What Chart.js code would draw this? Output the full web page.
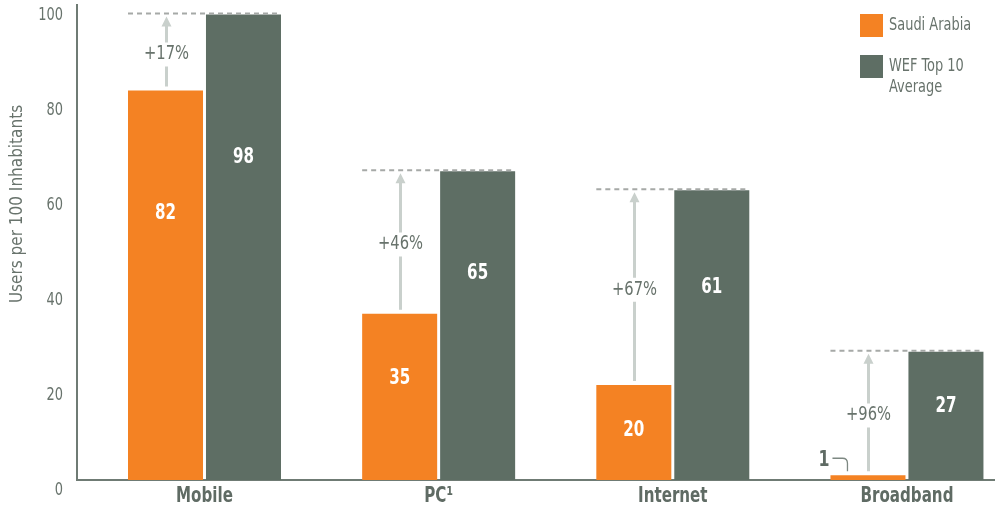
<!DOCTYPE html>
<html>
<head>
<meta charset="utf-8">
<script src="https://cdn.jsdelivr.net/npm/chart.js@4/dist/chart.umd.min.js"></script>
<style>
  html, body { margin: 0; padding: 0; background: #ffffff; overflow: hidden; }
  canvas { display: block; }
</style>
</head>
<body>
<canvas id="chart" width="995" height="511"></canvas>
<script>
// ICT penetration: Saudi Arabia vs. WEF Top 10 average
const categories = ['Mobile', 'PC¹', 'Internet', 'Broadband'];
const saudiArabia = [82, 35, 20, 1];
const wefTop10 = [98, 65, 61, 27];
const gapLabels = ['+17%', '+46%', '+67%', '+96%'];
const seriesNames = ['Saudi Arabia', 'WEF Top 10\nAverage'];
const yTicks = [0, 20, 40, 60, 80, 100];
const yTitle = 'Users per 100 Inhabitants';

const FONT = '"DejaVu Sans Condensed", "DejaVu Sans", sans-serif';
const ORANGE = '#f48223';
const GREEN = '#5e6e64';
const TEXT = '#68736c';
const LABEL = '#5f6b64';
const AXIS = '#6f7b74';
const ARROW = '#c9d0cc';
const DASH = '#a6a9a7';

const toPoints = values => values.map((v, i) => ({ x: i, y: v }));

// condensed text helper (horizontal squeeze gives the narrow typeface look)
function drawText(ctx, str, x, y, o) {
  ctx.save();
  ctx.font = `${o.bold ? 'bold ' : ''}${o.size}px ${FONT}`;
  ctx.fillStyle = o.color;
  ctx.textAlign = o.align || 'center';
  ctx.textBaseline = o.baseline || 'middle';
  ctx.translate(x, y);
  if (o.rotate) ctx.rotate(o.rotate);
  ctx.scale(o.sx || 1, 1);
  ctx.fillText(str, 0, 0);
  ctx.restore();
}

const annotate = {
  id: 'annotate',
  afterDatasetsDraw(chart) {
    const ctx = chart.ctx;
    const yScale = chart.scales.y;
    const sa = chart.getDatasetMeta(0).data;
    const wef = chart.getDatasetMeta(1).data;
    ctx.save();
    categories.forEach((cat, i) => {
      const o = sa[i], g = wef[i];
      const oLeft = o.x - o.width / 2;
      const gRight = g.x + g.width / 2;

      // dashed line at the benchmark level
      ctx.setLineDash([5, 4]);
      ctx.strokeStyle = DASH;
      ctx.lineWidth = 2;
      ctx.beginPath();
      ctx.moveTo(oLeft, g.y - 1);
      ctx.lineTo(gRight, g.y - 1);
      ctx.stroke();
      ctx.setLineDash([]);

      // gap arrow with its label
      const ax = Math.round(o.x) + 0.5;
      const tip = g.y + 2;
      const bottom = o.y - 4;
      const mid = (o.y + g.y) / 2 + 2;
      ctx.strokeStyle = ARROW;
      ctx.lineWidth = 3;
      ctx.beginPath();
      ctx.moveTo(ax, bottom);
      ctx.lineTo(ax, mid + 12);
      ctx.moveTo(ax, mid - 12);
      ctx.lineTo(ax, tip + 8);
      ctx.stroke();
      ctx.fillStyle = ARROW;
      ctx.beginPath();
      ctx.moveTo(ax, tip);
      ctx.lineTo(ax - 5, tip + 10);
      ctx.lineTo(ax + 5, tip + 10);
      ctx.closePath();
      ctx.fill();

      drawText(ctx, gapLabels[i], ax, mid, { size: 19, color: TEXT, sx: 0.86 });

      // value labels
      [[o, saudiArabia[i]], [g, wefTop10[i]]].forEach(([bar, v]) => {
        const h = bar.base - bar.y;
        if (h > 30) {
          drawText(ctx, String(v), bar.x, yScale.getPixelForValue(v * 0.736 - 3.9) + 2,
            { size: 21, bold: true, color: '#ffffff', sx: 0.8 });
        } else {
          const left = bar.x - bar.width / 2;
          drawText(ctx, String(v), left - 1, bar.y - 9,
            { size: 22, bold: true, color: LABEL, align: 'right', baseline: 'alphabetic', sx: 0.8 });
          ctx.strokeStyle = '#7d8882';
          ctx.lineWidth = 1.3;
          ctx.beginPath();
          ctx.moveTo(left + 2, bar.y - 17);
          ctx.lineTo(left + 12, bar.y - 17);
          ctx.quadraticCurveTo(left + 17, bar.y - 17, left + 17, bar.y - 12);
          ctx.lineTo(left + 17, bar.y - 4);
          ctx.stroke();
        }
      });
    });
    ctx.restore();
  },
  afterDraw(chart) {
    const ctx = chart.ctx;
    const xs = chart.scales.x;
    const ys = chart.scales.y;

    // axis tick labels, placed by the chart's own scales
    xs.ticks.forEach(t => {
      drawText(ctx, categories[t.value], xs.getPixelForValue(t.value), 497,
        { size: 21, bold: true, color: LABEL, sx: 0.8 });
    });
    ys.ticks.forEach(t => {
      drawText(ctx, String(t.value), 63, ys.getPixelForValue(t.value) + 10,
        { size: 18, color: TEXT, align: 'right', sx: 0.8 });
    });

    // vertical axis title
    drawText(ctx, yTitle, 18, 204, { size: 17, color: TEXT, rotate: -Math.PI / 2 });

    // legend
    const colors = [ORANGE, GREEN];
    const boxTops = [14, 55];
    seriesNames.forEach((name, k) => {
      ctx.fillStyle = colors[k];
      ctx.fillRect(860, boxTops[k], 23, 23);
      name.split('\n').forEach((line, j) => {
        drawText(ctx, line, 889, boxTops[k] + 16 + j * 21,
          { size: 18, color: TEXT, align: 'left', baseline: 'alphabetic', sx: 0.8 });
      });
    });
  }
};

new Chart(document.getElementById('chart'), {
  type: 'bar',
  data: {
    datasets: [
      { label: seriesNames[0], data: toPoints(saudiArabia), backgroundColor: ORANGE },
      { label: seriesNames[1], data: toPoints(wefTop10), backgroundColor: GREEN }
    ]
  },
  options: {
    responsive: false,
    animation: false,
    devicePixelRatio: 1,
    layout: { padding: { top: 5, left: 0, right: 0, bottom: 0 } },
    categoryPercentage: 0.666,
    barPercentage: 0.962,
    borderWidth: 0,
    plugins: {
      legend: { display: false },
      tooltip: { enabled: false }
    },
    scales: {
      x: {
        type: 'linear',
        offset: false,
        min: -0.5445,
        max: 3.376,
        afterFit(scale) { scale.height = 31; scale.paddingLeft = 0; scale.paddingRight = 0; },
        afterBuildTicks(scale) {
          scale.ticks = categories.map((c, i) => ({ value: i }));
        },
        grid: { display: false },
        border: { display: true, color: AXIS, width: 2 },
        ticks: { display: false }
      },
      y: {
        min: 0,
        max: 100,
        afterFit(scale) { scale.width = 77; scale.paddingTop = 0; scale.paddingBottom = 0; },
        afterBuildTicks(scale) {
          scale.ticks = yTicks.map(v => ({ value: v }));
        },
        grid: { display: false },
        border: { display: true, color: AXIS, width: 2 },
        ticks: { display: false }
      }
    }
  },
  plugins: [annotate]
});
</script>
</body>
</html>
